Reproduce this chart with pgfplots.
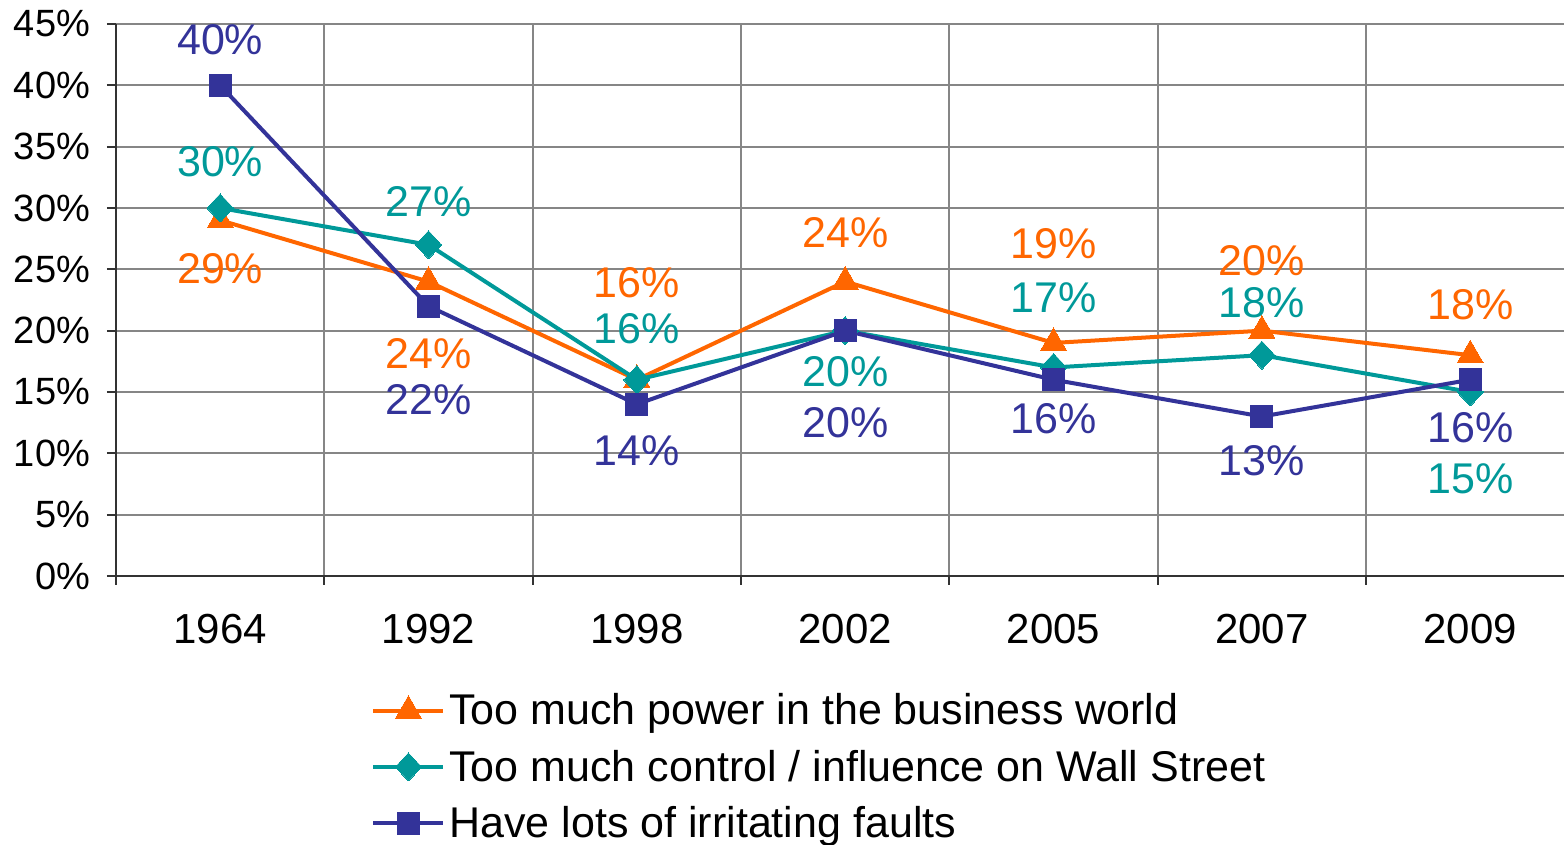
\documentclass[border=0pt]{standalone}
\usepackage{pgfplots}
\pgfplotsset{compat=1.18}
\usepackage{pgfplotstable}
\usepackage{fontspec}
\setmainfont{Liberation Sans}
\definecolor{corange}{HTML}{FF6600}
\definecolor{cteal}{HTML}{009999}
\definecolor{cnavy}{HTML}{333399}
\definecolor{gridgray}{HTML}{868686}
\definecolor{axisgray}{HTML}{333333}
\pgfplotsset{/pgf/number format/assume math mode=true}

\pgfplotstableread{
x y dy
0 29 -24
1 24 -36
2 16 48.5
3 24 24.5
4 19 49.5
5 20 35
6 18 25
}\power
\pgfplotstableread{
x y dy
0 30 23
1 27 21.5
2 16 25.5
3 20 -20.5
4 17 35
5 18 26
6 15 -43.5
}\control
\pgfplotstableread{
x y dy
0 40 23
1 22 -46.5
2 14 -23
3 20 -46
4 16 -19.5
5 13 -22
6 16 -24
}\faults

\begin{document}
\begin{tikzpicture}
\begin{axis}[
  at={(0,0)}, anchor=south west,
  scale only axis, width=724pt, height=276pt,
  xmin=-0.5, xmax=6.45, ymin=0, ymax=45,
  clip=false,
  axis x line=bottom, axis y line=left,
  axis line style={-, draw=axisgray, line width=1pt},
  tick align=outside, major tick length=4.5pt,
  tick style={draw=axisgray, line width=1pt},
  xtick={-0.5,0.5,...,5.5}, xticklabels={},
  xmajorgrids,
  extra x ticks={0,1,2,3,4,5,6},
  extra x tick labels={1964,1992,1998,2002,2005,2007,2009},
  extra x tick style={major tick length=0pt, grid=none},
  ytick={0,5,...,45},
  ymajorgrids,
  grid style={draw=gridgray, line width=1pt},
  yticklabel={\pgfmathprintnumber{\tick}\%},
  y tick label style={font=\fontsize{19}{21}\selectfont, xshift=-5pt},
  x tick label style={font=\fontsize{21}{23}\selectfont, yshift=-15.5pt},
  nodes near coords={\pgfmathprintnumber{\pgfplotspointmeta}\%},
  point meta=y,
  nodes near coords align={center},
  visualization depends on={\thisrow{dy} \as \labdy},
  every node near coord/.append style={anchor=center, yshift=\labdy pt, font=\fontsize{21.5}{23}\selectfont},
  legend style={at={(0.172,-0.198)}, anchor=north west, draw=none, fill=none,
    font=\fontsize{21.5}{23}\selectfont, row sep=7pt,
    /tikz/every even column/.append style={column sep=5pt}},
  legend cell align=left,
  legend image code/.code={\draw[#1, mark repeat=2, mark phase=2] plot coordinates {(0pt,0pt) (17.5pt,0pt) (35pt,0pt)};},
  every axis plot/.append style={line width=2pt, line join=round},
]
\addplot[color=corange, mark=triangle*, mark size=7.5pt, mark options={line width=0pt},
  every node near coord/.append style={text=corange}] table[x=x,y=y] {\power};
\addlegendentry{Too much power in the business world}
\addplot[color=cteal, mark=diamond*, mark size=7pt, mark options={line width=0pt, xscale=1.25},
  every node near coord/.append style={text=cteal}] table[x=x,y=y] {\control};
\addlegendentry{Too much control / influence on Wall Street}
\addplot[color=cnavy, mark=square*, mark size=5.5pt, mark options={line width=0pt},
  every node near coord/.append style={text=cnavy}] table[x=x,y=y] {\faults};
\addlegendentry{Have lots of irritating faults}
\end{axis}
\pgfresetboundingbox
\path[use as bounding box] (-58pt,-134.5pt) rectangle (724pt,288pt);
\end{tikzpicture}
\end{document}
